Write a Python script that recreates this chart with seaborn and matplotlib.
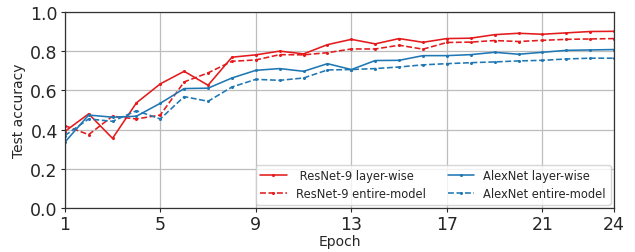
import matplotlib
matplotlib.use("Agg")
import matplotlib.pyplot as plt
import pandas as pd
import seaborn as sns

epochs = list(range(1, 25))

resnet_layer = [0.39, 0.48, 0.355, 0.536, 0.633, 0.697, 0.626, 0.769, 0.781, 0.800, 0.786, 0.833,
                0.860, 0.837, 0.864, 0.845, 0.864, 0.866, 0.884, 0.891, 0.886, 0.893, 0.900, 0.901]
resnet_entire = [0.42, 0.374, 0.468, 0.454, 0.474, 0.643, 0.689, 0.748, 0.755, 0.782, 0.781, 0.792,
                 0.811, 0.811, 0.830, 0.810, 0.844, 0.846, 0.854, 0.849, 0.855, 0.860, 0.862, 0.864]
alexnet_layer = [0.335, 0.474, 0.463, 0.468, 0.534, 0.609, 0.611, 0.663, 0.702, 0.711, 0.697, 0.736,
                 0.706, 0.752, 0.753, 0.777, 0.777, 0.782, 0.794, 0.784, 0.794, 0.804, 0.806, 0.808]
alexnet_entire = [0.369, 0.454, 0.442, 0.496, 0.454, 0.568, 0.544, 0.617, 0.656, 0.651, 0.663, 0.704,
                  0.706, 0.711, 0.719, 0.730, 0.736, 0.741, 0.745, 0.750, 0.753, 0.760, 0.764, 0.764]

series = [
    (" ResNet-9 layer-wise", resnet_layer, "#e41a1c", "-"),
    ("ResNet-9 entire-model", resnet_entire, "#e41a1c", "--"),
    ("AlexNet layer-wise", alexnet_layer, "#1f77b4", "-"),
    ("AlexNet entire-model", alexnet_entire, "#1f77b4", "--"),
]

sns.set_style("ticks")
plt.rcParams["font.family"] = ["DejaVu Sans"]

fig = plt.figure(figsize=(6.35, 2.53), dpi=100)
ax = fig.add_axes([0.102, 0.174, 0.865, 0.775])

for name, vals, color, ls in series:
    df = pd.DataFrame({"epoch": epochs, "acc": vals})
    sns.lineplot(data=df, x="epoch", y="acc", ax=ax, color=color, linestyle=ls,
                 marker="o", markersize=2.2, markeredgewidth=0, linewidth=1.15, label=name)

ax.set_xlim(1, 24)
ax.set_ylim(0, 1)
ax.set_xticks([1, 5, 9, 13, 17, 21, 24])
ax.set_yticks([0.0, 0.2, 0.4, 0.6, 0.8, 1.0])
ax.grid(True, color="#bdbdbd", linewidth=0.9)
ax.tick_params(labelsize=12.5, length=3, pad=2)
for sp in ax.spines.values():
    sp.set_color("#333333")
    sp.set_linewidth(0.9)
ax.set_xlabel("Epoch", fontsize=10, labelpad=1)
ax.set_ylabel("Test accuracy", fontsize=10, labelpad=3)
ax.legend(ncol=2, loc="lower right", fontsize=8.3, frameon=True, handlelength=2.3,
          handletextpad=0.8, columnspacing=1.9, labelspacing=0.4, borderaxespad=0.3)

fig.savefig("out.png", dpi=100)
